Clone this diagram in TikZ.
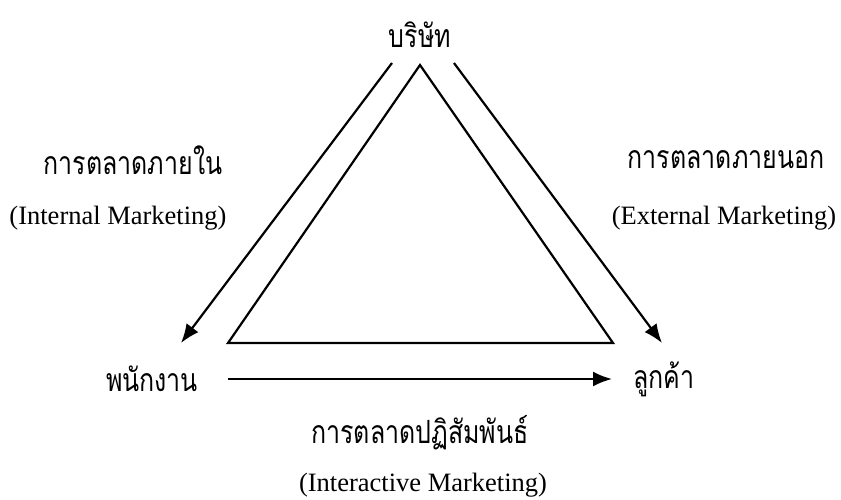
\documentclass[tikz,border=0pt]{standalone}
\usepackage{fontspec}
\setmainfont{Liberation Serif}
\newfontfamily\thaifont[Script=Thai]{Loma}
\usetikzlibrary{arrows.meta}
\newcommand{\thtext}[1]{\scalebox{0.78}[1]{#1}}
\begin{document}
\begin{tikzpicture}[x=1pt,y=-1pt,
  th/.style={font=\thaifont\fontsize{32}{36}\selectfont,inner sep=0pt},
  en/.style={font=\fontsize{26.5}{31}\selectfont,inner sep=0pt},
  edge/.style={line width=2.2pt},
  arr/.style={line width=2.2pt,-{Latex[length=19pt,width=15pt]}}]
\useasboundingbox (0,0) rectangle (841,500);
% triangle
\coordinate (A) at (420,65);
\coordinate (B) at (228,343);
\coordinate (C) at (613,343);
\draw[edge,line join=miter] (A) -- (B) -- (C) -- cycle;
% arrows
\coordinate (l1) at (392,63);
\coordinate (l2) at (181,343);
\coordinate (r1) at (454,63);
\coordinate (r2) at (662,343);
\coordinate (b1) at (228,379);
\coordinate (b2) at (612,379);
\draw[arr] (l1) -- (l2);
\draw[arr] (r1) -- (r2);
% labels
\node[th] (co) at (420,35) {\thtext{บริษัท}};
\node[th] (il) at (133,160) {\thtext{การตลาดภายใน}};
\node[en] (ie) at (118,218) {(Internal Marketing)};
\node[th] (xl) at (726,160) {\thtext{การตลาดภายนอก}};
\node[en] (xe) at (724,218) {(External Marketing)};
\node[th] (emp) at (152,379) {\thtext{พนักงาน}};
\node[th] (cus) at (664,379) {\thtext{ลูกค้า}};
\node[th] (al) at (420,433) {\thtext{การตลาดปฏิสัมพันธ์}};
\node[en] (ae) at (423,485) {(Interactive Marketing)};
\draw[arr] (b1) -- (b2);
\end{tikzpicture}
\end{document}
